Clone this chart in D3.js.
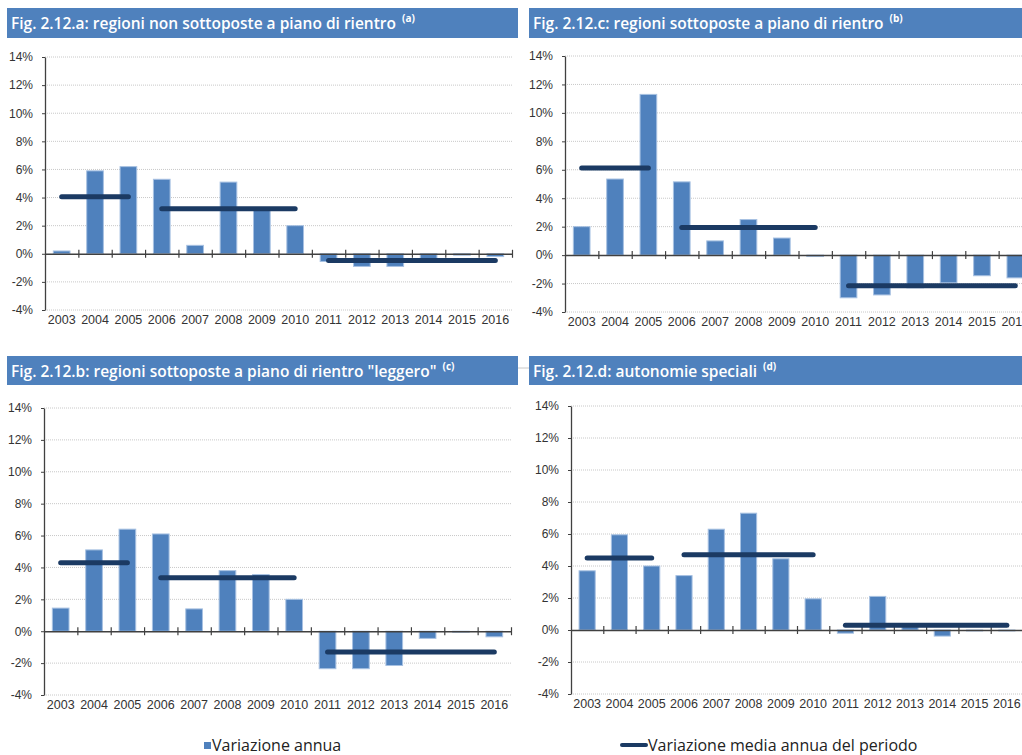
<!DOCTYPE html>
<html>
<head>
<meta charset="utf-8">
<script src="https://cdn.jsdelivr.net/npm/d3@7"></script>
<style>
  body { margin: 0; background: #fff; }
  svg { display: block; font-family: "Open Sans", sans-serif; }
  .grid line { stroke: #c8c8c8; stroke-dasharray: 1,1; }
  .axis path, .axis line { stroke: #404040; }
  .axis text { fill: #333; }
</style>
</head>
<body>
<svg id="chart" width="1022" height="755"></svg>
<script>
'use strict';

const years = ['2003', '2004', '2005', '2006', '2007', '2008', '2009', '2010', '2011', '2012', '2013', '2014', '2015', '2016'];
const yTicks = [-4, -2, 0, 2, 4, 6, 8, 10, 12, 14];
const periods = [['2003', '2005'], ['2006', '2010'], ['2011', '2016']];

// variazione annua (%)
const annuaA = [0.2, 5.9, 6.2, 5.3, 0.6, 5.1, 3.1, 2.0, -0.55, -0.9, -0.9, -0.4, -0.1, -0.2];
const annuaB = [1.45, 5.1, 6.4, 6.1, 1.4, 3.8, 3.55, 2.0, -2.35, -2.35, -2.15, -0.45, -0.06, -0.35];
const annuaC = [2.0, 5.35, 11.3, 5.15, 1.0, 2.5, 1.2, -0.1, -3.0, -2.8, -2.3, -1.95, -1.45, -1.6];
const annuaD = [3.7, 5.95, 4.0, 3.4, 6.3, 7.3, 4.45, 1.95, -0.2, 2.1, 0.2, -0.38, -0.06, -0.06];

// variazione media annua del periodo (%)
const mediaA = [4.05, 3.2, -0.47];
const mediaB = [4.3, 3.35, -1.3];
const mediaC = [6.13, 1.95, -2.15];
const mediaD = [4.5, 4.7, 0.3];

const BAR_COLOR = '#4f81bd';
const BAR_STROKE = '#a7c1e2';
const MEAN_COLOR = '#1b3a63';
const HEADER_COLOR = '#4f81bd';

const panels = [
    {title: 'Fig. 2.12.a: regioni non sottoposte a piano di rientro', note: '(a)', annua: annuaA, media: mediaA,
     header: {x: 7, y: 8, w: 511, h: 30}, plot: {left: 45, right: 512, top: 57, bottom: 310}},
    {title: 'Fig. 2.12.c: regioni sottoposte a piano di rientro', note: '(b)', annua: annuaC, media: mediaC,
     header: {x: 529, y: 8, w: 500, h: 30}, plot: {left: 565, right: 1032, top: 56, bottom: 312}},
    {title: 'Fig. 2.12.b: regioni sottoposte a piano di rientro "leggero"', note: '(c)', annua: annuaB, media: mediaB,
     header: {x: 7, y: 356, w: 511, h: 29}, plot: {left: 44, right: 511, top: 408, bottom: 695}},
    {title: 'Fig. 2.12.d: autonomie speciali', note: '(d)', annua: annuaD, media: mediaD,
     header: {x: 529, y: 356, w: 500, h: 29}, plot: {left: 571, right: 1023, top: 406, bottom: 694}}
];

const svg = d3.select('#chart');

function drawPanel(p) {
    const g = svg.append('g');
    const {left, right, top, bottom} = p.plot;

    // header band
    g.append('rect')
        .attr('x', p.header.x).attr('y', p.header.y)
        .attr('width', p.header.w).attr('height', p.header.h)
        .attr('fill', HEADER_COLOR);

    const title = g.append('text')
        .attr('x', p.header.x + 4)
        .attr('y', p.header.y + 21)
        .attr('fill', '#fff')
        .attr('font-size', 15.5)
        .attr('font-weight', 600)
        .text(p.title);
    title.append('tspan')
        .attr('dx', 6).attr('dy', -7)
        .attr('font-size', 10)
        .attr('font-weight', 700)
        .text(p.note);

    const x = d3.scaleBand()
        .domain(years)
        .range([left, right])
        .paddingInner(0.5)
        .paddingOuter(0.25);

    const y = d3.scaleLinear()
        .domain([-4, 14])
        .range([bottom, top]);

    // dotted gridlines
    g.append('g')
        .attr('class', 'grid')
        .selectAll('line')
        .data(yTicks.filter(d => d !== 0))
        .enter()
        .append('line')
        .attr('x1', left).attr('x2', right)
        .attr('y1', d => y(d)).attr('y2', d => y(d));

    // bars
    g.selectAll('.bar')
        .data(p.annua.map((v, i) => ({year: years[i], value: v})))
        .enter()
        .append('rect')
        .attr('class', 'bar')
        .attr('x', d => x(d.year))
        .attr('width', x.bandwidth())
        .attr('y', d => y(Math.max(0, d.value)))
        .attr('height', d => Math.abs(y(d.value) - y(0)))
        .attr('fill', BAR_COLOR)
        .attr('stroke', BAR_STROKE)
        .attr('stroke-width', 1);

    // y axis
    const yAxis = g.append('g')
        .attr('class', 'axis')
        .attr('transform', `translate(${left},0)`)
        .call(d3.axisLeft(y)
            .tickValues(yTicks)
            .tickFormat(d => d + '%')
            .tickSizeInner(3)
            .tickSizeOuter(0)
            .tickPadding(9));
    yAxis.select('.domain').attr('stroke-width', 1.3);
    yAxis.selectAll('text').attr('font-size', 12);

    // zero line with tick marks at category boundaries
    const step = x.step();
    const edges = d3.scaleLinear().domain([0, years.length]).range([left, left + step * years.length]);
    const zero = g.append('g')
        .attr('class', 'axis')
        .attr('transform', `translate(0,${y(0)})`)
        .call(d3.axisBottom(edges)
            .tickValues(d3.range(1, years.length + 1))
            .tickFormat('')
            .tickSizeOuter(0));
    zero.select('.domain').attr('stroke-width', 1.5);
    zero.selectAll('.tick line').attr('y1', -4).attr('y2', 4).attr('stroke-width', 1.2);

    // year labels
    const xAxis = g.append('g')
        .attr('class', 'axis')
        .attr('transform', `translate(0,${bottom})`)
        .call(d3.axisBottom(x).tickSize(0).tickPadding(5));
    xAxis.select('.domain').remove();
    xAxis.selectAll('text').attr('font-size', 12.5);

    // period means
    g.selectAll('.mean')
        .data(periods.map((pr, i) => ({from: pr[0], to: pr[1], value: p.media[i]})))
        .enter()
        .append('line')
        .attr('class', 'mean')
        .attr('x1', d => x(d.from) + x.bandwidth() / 2)
        .attr('x2', d => x(d.to) + x.bandwidth() / 2)
        .attr('y1', d => y(d.value))
        .attr('y2', d => y(d.value))
        .attr('stroke', MEAN_COLOR)
        .attr('stroke-width', 5)
        .attr('stroke-linecap', 'round');
}

panels.forEach(drawPanel);

// small connector between the two lower headers
svg.append('line')
    .attr('x1', 518).attr('x2', 529)
    .attr('y1', 368).attr('y2', 368)
    .attr('stroke', '#c8c8c8');

// legend
const legend = svg.append('g').attr('font-size', 16).attr('fill', '#222');
legend.append('rect')
    .attr('x', 204).attr('y', 742).attr('width', 7).attr('height', 7)
    .attr('fill', BAR_COLOR);
legend.append('text')
    .attr('x', 212).attr('y', 751)
    .text('Variazione annua');
legend.append('line')
    .attr('x1', 622).attr('x2', 646)
    .attr('y1', 745).attr('y2', 745)
    .attr('stroke', MEAN_COLOR).attr('stroke-width', 4).attr('stroke-linecap', 'round');
legend.append('text')
    .attr('x', 648).attr('y', 751)
    .text('Variazione media annua del periodo');
</script>
</body>
</html>
